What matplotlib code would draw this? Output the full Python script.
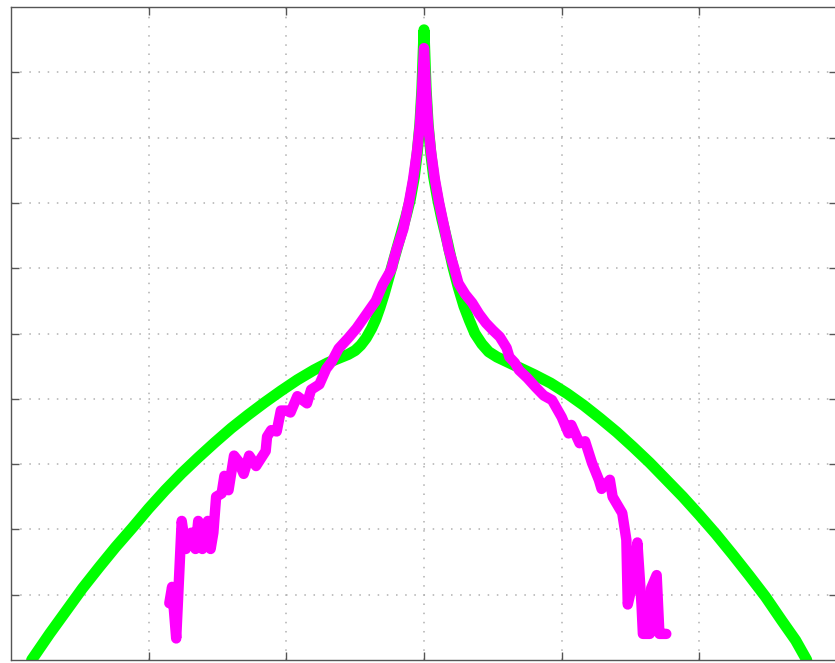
import matplotlib
matplotlib.use("Agg")
import matplotlib.pyplot as plt

# green curve (model)
green_x = [-2.85, -2.72, -2.6, -2.48, -2.36, -2.24, -2.12, -2.0, -1.88, -1.76,
           -1.64, -1.52, -1.4, -1.28, -1.16, -1.04, -0.92, -0.8, -0.7, -0.62,
           -0.55, -0.5, -0.46, -0.42, -0.38, -0.35, -0.32, -0.29, -0.25, -0.21,
           -0.17, -0.13, -0.1, -0.07, -0.05, -0.03, -0.015, 0.0,
           0.015, 0.03, 0.05, 0.07, 0.1, 0.13, 0.17, 0.21, 0.25, 0.29,
           0.33, 0.37, 0.42, 0.47, 0.53, 0.6, 0.7, 0.8, 0.92, 1.04,
           1.16, 1.28, 1.4, 1.52, 1.64, 1.76, 1.88, 2.0, 2.12, 2.24,
           2.36, 2.48, 2.6, 2.7, 2.78]
green_y = [0.0, 0.4, 0.75, 1.1, 1.42, 1.73, 2.02, 2.32, 2.6, 2.86,
           3.1, 3.33, 3.55, 3.75, 3.94, 4.12, 4.29, 4.44, 4.55, 4.62,
           4.68, 4.74, 4.82, 4.93, 5.08, 5.22, 5.4, 5.6, 5.9, 6.2,
           6.5, 6.8, 7.05, 7.4, 7.75, 8.2, 8.75, 9.65,
           8.75, 8.2, 7.75, 7.4, 7.05, 6.75, 6.4, 6.02, 5.7, 5.42,
           5.2, 5.0, 4.84, 4.72, 4.64, 4.57, 4.47, 4.37, 4.24, 4.08,
           3.9, 3.7, 3.49, 3.26, 3.02, 2.76, 2.5, 2.22, 1.93, 1.62,
           1.3, 0.97, 0.6, 0.3, 0.0]

mag_x = [-1.85, -1.83, -1.80, -1.76, -1.73, -1.69, -1.66, -1.64, -1.61, -1.57,
         -1.55, -1.53, -1.51, -1.47, -1.45, -1.42, -1.38, -1.35, -1.31, -1.27,
         -1.22, -1.15, -1.14, -1.11, -1.07, -1.04, -1.0, -0.97, -0.92, -0.85,
         -0.82, -0.76, -0.71, -0.67, -0.62, -0.55, -0.49, -0.42, -0.35, -0.3,
         -0.24, -0.2, -0.15, -0.11, -0.08, -0.05, -0.03, -0.015, 0.0,
         0.015, 0.03, 0.05, 0.08, 0.11, 0.15, 0.18, 0.22, 0.25, 0.3,
         0.35, 0.4, 0.45, 0.5, 0.55, 0.6, 0.62, 0.66, 0.69, 0.75,
         0.81, 0.87, 0.93, 1.0, 1.03, 1.05, 1.07, 1.13, 1.17, 1.22,
         1.27, 1.29, 1.35, 1.37, 1.44, 1.47, 1.48, 1.52, 1.55, 1.58,
         1.59, 1.64, 1.65, 1.69, 1.71, 1.76]
mag_y = [0.87, 1.12, 0.33, 2.13, 1.7, 1.95, 1.7, 2.13, 1.7, 2.13,
         1.7, 1.95, 2.5, 2.55, 2.82, 2.6, 3.13, 3.05, 2.85, 3.13,
         2.97, 3.2, 3.42, 3.52, 3.5, 3.82, 3.82, 3.79, 4.04, 3.93,
         4.14, 4.22, 4.46, 4.57, 4.77, 4.93, 5.08, 5.29, 5.5, 5.75,
         5.97, 6.28, 6.6, 7.0, 7.35, 7.8, 8.2, 8.7, 9.37,
         8.7, 8.2, 7.8, 7.35, 7.0, 6.6, 6.28, 6.0, 5.77, 5.6,
         5.47, 5.3, 5.16, 5.05, 4.95, 4.78, 4.64, 4.55, 4.44, 4.32,
         4.18, 4.05, 3.98, 3.72, 3.57, 3.47, 3.6, 3.32, 3.35, 3.02,
         2.76, 2.62, 2.76, 2.5, 2.25, 1.84, 0.85, 1.22, 1.8, 0.85,
         0.4, 0.4, 1.1, 1.3, 0.4, 0.4]

x_ticks = [-2, -1, 0, 1, 2]
y_ticks = [1, 2, 3, 4, 5, 6, 7, 8, 9]

fig = plt.figure(figsize=(8.35, 6.63), dpi=100)
ax = fig.add_axes([11 / 835, 3 / 663, 826 / 835, 653 / 663])

ax.plot(green_x, green_y, color="#00ff00", linewidth=8,
        solid_capstyle="round", solid_joinstyle="round")
ax.plot(mag_x, mag_y, color="#ff00ff", linewidth=7.5,
        solid_capstyle="round", solid_joinstyle="round")

ax.set_xlim(-3, 3)
ax.set_ylim(0, 10)
ax.set_xticks(x_ticks)
ax.set_yticks(y_ticks)
ax.set_xticklabels([])
ax.set_yticklabels([])
ax.tick_params(direction="in", length=6, width=1, color="#555555",
               top=True, right=True)
ax.grid(True, linestyle=(0, (1, 5)), color="#b0b0b0", linewidth=1.1)
for s in ax.spines.values():
    s.set_color("#555555")
    s.set_linewidth(1)

fig.savefig("out.png", dpi=100)
